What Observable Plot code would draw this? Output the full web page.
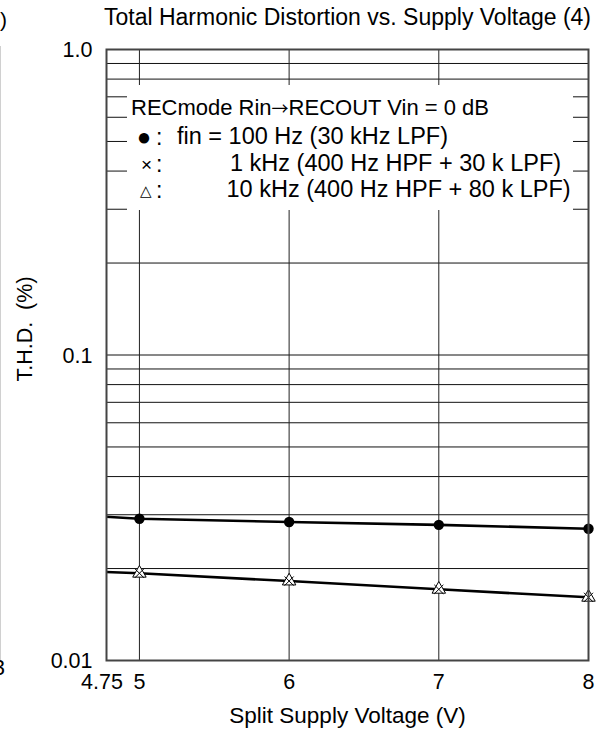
<!DOCTYPE html>
<html>
<head>
<meta charset="utf-8">
<script src="https://cdn.jsdelivr.net/npm/d3@7"></script>
<script src="https://cdn.jsdelivr.net/npm/@observablehq/plot@0.6"></script>
<style>
  html, body { margin: 0; padding: 0; background: #fff; }
  #wrap { position: relative; width: 604px; height: 731px; overflow: hidden; font-family: "Liberation Sans", Arial, sans-serif; color: #000; }
  .t { position: absolute; white-space: nowrap; line-height: 1; transform: translateY(-50%); font-size: 23px; }
  .arrow { font-family: "Noto Sans CJK JP", "DejaVu Sans", sans-serif; font-size: 17px; }
  #legend { position: absolute; left: 127px; top: 85px; width: 446px; height: 125px; background: #fff; }
  #edge { position: absolute; left: 0; top: 46px; width: 1px; height: 616px; background: #d0d0d0; }
</style>
</head>
<body>
<div id="wrap"><div id="edge"></div></div>
<script>
// ---- data ----
const supplyVoltage = [4.75, 5, 6, 7, 8];
const thd100Hz  = [0.0296, 0.0291, 0.0284, 0.0278, 0.0270];   // ● fin = 100 Hz
const thd1kHz   = [0.0195, 0.0193, 0.0182, 0.0171, 0.0161];   // × 1 kHz
const thd10kHz  = [0.0195, 0.0193, 0.0182, 0.0171, 0.0161];   // △ 10 kHz
const markerVoltages = [5, 6, 7, 8];
const xTickValues = [4.75, 5, 6, 7, 8];
const xTickLabels = ["4.75", "5", "6", "7", "8"];
const yTickValues = [0.01, 0.1, 1];
const yTickLabels = ["0.01", "0.1", "1.0"];
const yGrid = [0.02,0.03,0.04,0.05,0.06,0.07,0.08,0.09,0.1,0.2,0.3,0.4,0.5,0.6,0.7,0.8,0.9];
const xGrid = [5, 6, 7];
const titleText = "Total Harmonic Distortion vs. Supply Voltage (4)";
const xLabel = "Split Supply Voltage (V)";
const yLabel = "T.H.D.  (%)";
const legendHeaderParts = ["RECmode Rin", "\u2192", "RECOUT Vin = 0 dB"];
const legendSymbols = ["\u25CF", "\u00D7", "\u25B3"];
const legendLabels = ["fin = 100 Hz (30 kHz LPF)", "1 kHz (400 Hz HPF + 30 k LPF)", "10 kHz (400 Hz HPF + 80 k LPF)"];

const series = [
  {name: "100Hz", values: thd100Hz},
  {name: "1kHz", values: thd1kHz},
  {name: "10kHz", values: thd10kHz}
];
const lineRows = series.flatMap(s => supplyVoltage.map((v, i) => ({s: s.name, x: v, y: s.values[i]})));
const markerRows = name => lineRows.filter(r => r.s === name && markerVoltages.includes(r.x));

const chart = Plot.plot({
  width: 604, height: 731,
  marginTop: 49, marginBottom: 71, marginLeft: 106, marginRight: 16,
  x: {domain: [4.78, 8], axis: null},
  y: {type: "log", domain: [0.01, 1], axis: null},
  style: {fontFamily: "'Liberation Sans', Arial, sans-serif", fontSize: "22px", background: "transparent", color: "black", overflow: "visible"},
  marks: [
    Plot.ruleY(yGrid, {stroke: "#111", strokeWidth: 1}),
    Plot.ruleX(xGrid, {stroke: "#222", strokeWidth: 1}),
    Plot.line(lineRows.filter(r => r.s !== "1kHz"), {x: "x", y: "y", z: "s", stroke: "black", strokeWidth: 2.6, clip: true}),
    Plot.dot(markerRows("100Hz"), {x: "x", y: "y", r: 5.2, fill: "black", stroke: "none"}),
    Plot.dot(markerRows("10kHz"), {x: "x", y: "y", symbol: "triangle", r: 5, fill: "white", stroke: "black", strokeWidth: 1}),
    Plot.dot(markerRows("1kHz"), {x: "x", y: "y", symbol: "times", r: 4.2, stroke: "black", strokeWidth: 1}),
    Plot.frame({stroke: "#444", strokeWidth: 2}),
    Plot.text(xTickValues, {x: d => d, text: (d, i) => xTickLabels[i], frameAnchor: "bottom", lineAnchor: "middle", dy: 22, fontSize: 21.5}),
    Plot.text(yTickValues, {y: d => d, text: (d, i) => yTickLabels[i], frameAnchor: "left", textAnchor: "end", lineAnchor: "middle", dx: -14, dy: 1, fontSize: 21.5}),
    Plot.text([xLabel], {frameAnchor: "bottom", lineAnchor: "middle", dy: 55, fontSize: 22.5}),
    Plot.text([yLabel], {frameAnchor: "left", textAnchor: "middle", rotate: -90, lineAnchor: "middle", dx: -81, dy: -26, fontSize: 21.5}),
    Plot.text([titleText], {frameAnchor: "top", lineAnchor: "middle", dy: -32, dx: 0, fontSize: 23})
  ]
});

const wrap = document.getElementById("wrap");
wrap.appendChild(chart);
chart.style.position = "absolute";
chart.style.left = "0px";
chart.style.top = "0px";

// legend box (white panel over the gridlines)
const legend = document.createElement("div");
legend.id = "legend";
wrap.appendChild(legend);

function addText(txt, left, top, size, anchorCenter) {
  const el = document.createElement("div");
  el.className = "t";
  el.textContent = txt;
  el.style.left = left + "px";
  el.style.top = top + "px";
  if (size) el.style.fontSize = size + "px";
  if (anchorCenter) el.style.transform = "translate(-50%, -50%)";
  wrap.appendChild(el);
  return el;
}
const header = addText("", 131, 108, 22);
legendHeaderParts.forEach((p, i) => {
  const s = document.createElement("span");
  s.textContent = p;
  if (i === 1) s.className = "arrow";
  header.appendChild(s);
});
const rowY = [136.5, 164, 190];
const symX = [144, 146.5, 146];
const symSize = [24, 19, 15];
const labelX = [177, 230, 226.5];
legendLabels.forEach((lab, i) => {
  addText(legendSymbols[i], symX[i], rowY[i], symSize[i], true);
  addText(":", 156, rowY[i]);
  addText(lab, labelX[i], rowY[i], 23.5);
});

// fragments of the neighbouring chart at the left edge
addText(")", 0, 19, 21);
addText("3", -7, 669, 21.5);
</script>
</body>
</html>
